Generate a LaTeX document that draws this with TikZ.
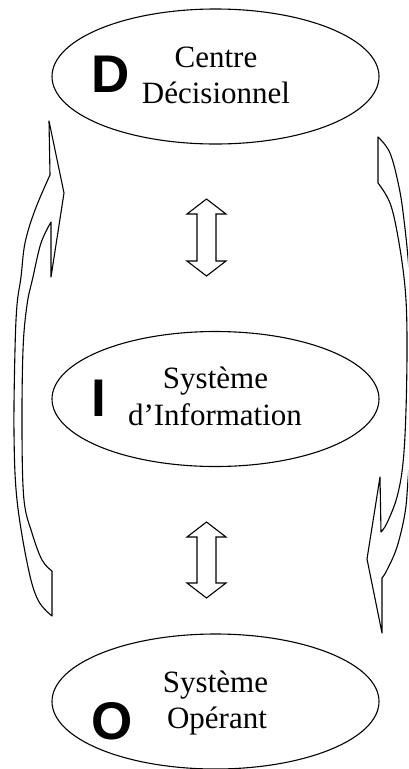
\documentclass[tikz,border=0pt]{standalone}
\usepackage{fontspec}
\setmainfont{Liberation Serif}
\newfontfamily\letterfont{Liberation Sans}
\usetikzlibrary{shapes.geometric}
\begin{document}
\begin{tikzpicture}[x=1pt,y=-1pt,
  lw/.style={line width=1.1pt},
  bubble/.style={draw,lw,ellipse,minimum width=327pt,minimum height=135pt,inner sep=0pt},
  lbl/.style={font=\fontsize{31}{36}\selectfont,anchor=base,inner sep=0pt},
  bigletter/.style={font=\letterfont\bfseries\fontsize{53}{60}\selectfont,anchor=base,inner sep=0pt},
  blockarrow/.style={draw,lw,fill=white,line join=miter}]
\useasboundingbox (0,0) rectangle (408,769);
\clip (0,0) rectangle (408,769);
% ellipses
\node[bubble] (D) at (215.5,76.5) {};
\node[bubble] (I) at (215.5,399) {};
\node[bubble] (O) at (215.5,701.5) {};
% texts
\node[lbl] (d1) at (216,67) {Centre};
\node[lbl] (d2) at (216,103) {Décisionnel};
\node[bigletter] (dl) at (111,92) {D};
\node[lbl] (i1) at (215.5,388) {Système};
\node[lbl] (i2) at (215,425.5) {d’Information};
\node[bigletter] (il) at (98.5,416) {I};
\node[lbl] (o1) at (215.5,692.5) {Système};
\node[lbl] (o2) at (217,728.5) {Opérant};
\node[bigletter] (ol) at (112,739) {O};
% central double arrows
\draw[blockarrow] (206.5,199) -- (226,214) -- (216,214) -- (216,261) -- (226,261) -- (206.5,276)
  -- (187,261) -- (197,261) -- (197,214) -- (187,214) -- cycle;
\draw[blockarrow] (206.5,522) -- (226,537) -- (216,537) -- (216,583) -- (226,583) -- (206.5,598)
  -- (187,583) -- (197,583) -- (197,537) -- (187,537) -- cycle;
% left curved arrow (upwards)
\draw[blockarrow,line join=round] (49,121) -- (64,193) -- (51,277) -- (51,222)
  -- plot[smooth,tension=0.6] coordinates {(51,222) (41,243) (33,277) (27,305) (23,350) (22,433) (24,500) (32,533) (42,560) (52,571)}
  -- (52,616)
  -- plot[smooth,tension=0.6] coordinates {(52,616) (38,600) (28,567) (17,500) (14,433) (15,350) (17,305) (21,277) (25,243) (35,210) (50,175)}
  -- cycle;
% right curved arrow (downwards)
\draw[blockarrow,line join=round] (378,137)
  -- plot[smooth,tension=0.6] coordinates {(378,137) (390,153) (399,187) (404,220) (409,270) (413,340) (412,420) (408,480) (405,513) (397,547) (387,570) (382,578)}
  -- (382,633) -- (367,559) -- (380,477) -- (381,532)
  -- plot[smooth,tension=0.6] coordinates {(381,532) (387,523) (397,497) (403,463) (406,410) (407,337) (405,287) (398,237) (390,203) (378,183)}
  -- cycle;
\end{tikzpicture}
\end{document}
